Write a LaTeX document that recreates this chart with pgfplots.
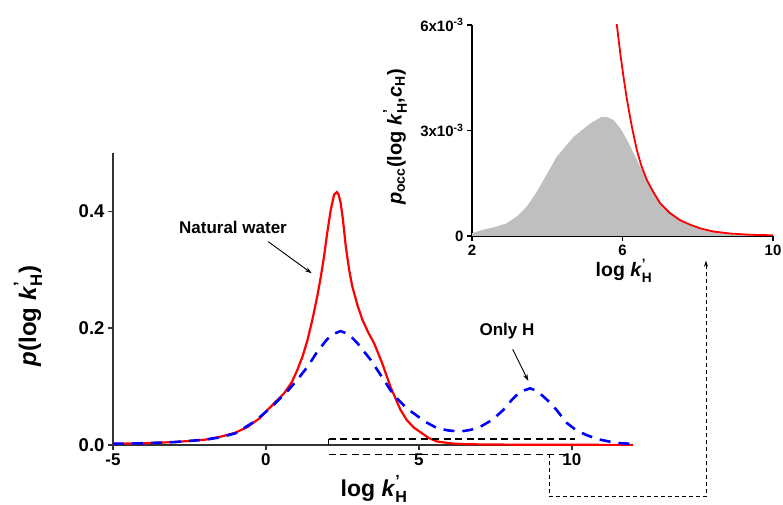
\documentclass[border=0pt]{standalone}
\usepackage{fontspec}
\setmainfont{Liberation Sans}
\usepackage{amsmath}
\usepackage{pgfplots}
\pgfplotsset{compat=1.18}
\usetikzlibrary{arrows.meta}

% k'_H and c_H in the current (bold) text font
\newcommand{\kH}{$\text{\textit{k}}^{\text{'}}_{\text{H}}$}
\newcommand{\cH}{$\text{\textit{c}}_{\text{H}}$}

\begin{document}
\begin{tikzpicture}[x=1pt,y=1pt]

% ---------------- main panel ----------------
\begin{axis}[
  at={(113pt,60pt)}, anchor=south west,
  scale only axis, width=520pt, height=292pt,
  xmin=-5, xmax=12, ymin=0, ymax=0.5,
  axis x line*=bottom, axis y line*=left,
  axis line style={line width=1.6pt, black!80},
  xtick={-5,0,5,10}, xticklabels={-5,0,5,10},
  ytick={0,0.2,0.4}, yticklabels={0.0,0.2,0.4},
  tick align=outside, major tick length=5pt,
  tick style={line width=1.4pt, black!80},
  x tick label style={font=\fontsize{17}{20}\selectfont\bfseries},
  y tick label style={font=\fontsize{18.5}{22}\selectfont\bfseries},
  clip=false,
]
% natural water
\addplot[red, line width=2.2pt] coordinates {
(-5,0.002) (-4,0.003) (-3,0.005) (-2,0.009) (-1.5,0.014) (-1,0.021)
(-0.6,0.031) (-0.2,0.046) (0.05,0.060) (0.3,0.073) (0.6,0.089) (0.85,0.108)
(1.03,0.129) (1.2,0.152) (1.36,0.180) (1.52,0.215) (1.68,0.255) (1.8,0.290)
(1.90,0.323) (2.0,0.362) (2.12,0.403) (2.23,0.429) (2.32,0.433) (2.38,0.428)
(2.44,0.415) (2.52,0.385) (2.61,0.340) (2.72,0.300) (2.82,0.272) (3.0,0.238)
(3.15,0.215) (3.35,0.192) (3.53,0.175) (3.80,0.140) (4.07,0.100) (4.25,0.078)
(4.40,0.060) (4.6,0.043) (4.83,0.030) (5.05,0.022) (5.32,0.012) (5.59,0.006)
(6.1,0.0025) (6.5,0.0015) (7,0.001) (8,0.0006) (10,0.0003) (12,0.0002)
};
% only H
\addplot[blue, line width=2.6pt, dash pattern=on 11pt off 8pt] coordinates {
(-5,0.002) (-4,0.003) (-3,0.005) (-2,0.009) (-1.5,0.013) (-1,0.020)
(-0.38,0.040) (0.16,0.064) (0.7,0.092) (1.0,0.110) (1.36,0.134) (1.68,0.160)
(2.0,0.181) (2.2,0.190) (2.44,0.195) (2.7,0.190) (2.98,0.175) (3.42,0.146)
(3.85,0.112) (4.18,0.085) (4.6,0.063) (4.94,0.050) (5.2,0.040) (5.59,0.029)
(5.95,0.025) (6.35,0.023) (6.7,0.026) (7.0,0.031) (7.4,0.043) (7.76,0.060)
(8.05,0.078) (8.31,0.091) (8.63,0.097) (8.85,0.093) (9.07,0.083) (9.30,0.072)
(9.50,0.060) (9.83,0.038) (10.15,0.025) (10.48,0.017) (10.85,0.010)
(11.24,0.0057) (11.6,0.003) (12,0.002)
};
\end{axis}

% ---------------- inset ----------------
\begin{axis}[
  at={(472pt,269pt)}, anchor=south west,
  scale only axis, width=301pt, height=211pt,
  xmin=2, xmax=10, ymin=0, ymax=6e-3,
  axis x line*=bottom, axis y line*=left,
  axis line style={line width=1.3pt, black},
  xtick={2,6,10}, xticklabels={2,6,10},
  ytick={0,3e-3,6e-3},
  yticklabels={0,3x10\textsuperscript{-3},6x10\textsuperscript{-3}},
  scaled y ticks=false,
  tick align=outside, major tick length=5pt,
  tick style={line width=1.2pt, black},
  x tick label style={font=\fontsize{15}{18}\selectfont\bfseries},
  y tick label style={font=\fontsize{15}{18}\selectfont\bfseries},
  clip=true,
]
\addplot[fill=gray!50, draw=none] coordinates {
(2.0,0.08e-3) (2.3,0.18e-3) (2.6,0.25e-3) (2.92,0.36e-3) (3.2,0.56e-3)
(3.45,0.83e-3) (3.7,1.22e-3) (3.90,1.59e-3) (4.25,2.25e-3) (4.70,2.82e-3)
(5.14,3.20e-3) (5.45,3.39e-3) (5.6,3.38e-3) (5.76,3.30e-3) (5.95,3.05e-3)
(6.12,2.73e-3) (6.30,2.35e-3) (6.47,1.97e-3) (6.65,1.60e-3) (6.82,1.28e-3)
(7.0,0.95e-3) (7.27,0.68e-3) (7.53,0.46e-3) (7.80,0.33e-3) (8.1,0.21e-3)
(8.42,0.12e-3) (8.8,0.06e-3) (9.3,0.03e-3) (10,0.01e-3)
} \closedcycle;
\addplot[red, line width=1.8pt] coordinates {
(5.75,7.2e-3) (5.85,6.0e-3) (5.94,5.2e-3) (6.03,4.5e-3) (6.12,3.87e-3)
(6.25,3.1e-3) (6.38,2.45e-3) (6.5,2.0e-3) (6.65,1.59e-3) (6.82,1.25e-3)
(7.0,0.93e-3) (7.25,0.66e-3) (7.53,0.45e-3) (7.8,0.32e-3) (8.06,0.22e-3)
(8.4,0.13e-3) (8.86,0.07e-3) (9.4,0.035e-3) (10,0.02e-3)
};
\end{axis}

% ---------------- axis titles ----------------
\node[font=\fontsize{23}{26}\selectfont\bfseries, anchor=base] at (374,9) {log \kH};
\node[font=\fontsize{24}{28}\selectfont\bfseries, rotate=90] at (28,189) {\textit{p}(log \kH)};
\node[font=\fontsize{19.5}{22}\selectfont\bfseries, anchor=base] at (624,228) {log \kH};
\node[font=\fontsize{20}{24}\selectfont\bfseries, rotate=90] at (395,368)
  {\textit{p}\textsubscript{occ}(log \kH,\cH)};

% ---------------- annotations ----------------
\node[font=\fontsize{17}{20}\selectfont\bfseries, anchor=base] at (233,271) {Natural water};
\draw[line width=0.9pt, -{Stealth[length=7pt,width=4.5pt]}] (268.3,263.3) -- (311.7,231.7);
\node[font=\fontsize{17}{20}\selectfont\bfseries, anchor=base] at (507,169) {Only H};
\draw[line width=0.9pt, -{Stealth[length=7pt,width=4.5pt]}] (512.7,155.7) -- (528.3,124);

% zoomed window and its connector to the inset
\draw[line width=1.1pt] (328.5,60) -- (328.5,66);
\draw[line width=1.1pt, dash pattern=on 7pt off 4.5pt] (328.5,66) -- (575,66);
\draw[line width=1.1pt, dash pattern=on 7pt off 4.5pt] (328.5,50.7) -- (567,50.7);
\draw[line width=1pt, dash pattern=on 4pt off 3pt, -{Stealth[length=6pt,width=4pt]}]
  (549,50.7) -- (549,8.3) -- (706,8.3) -- (706,244.3);

\pgfresetboundingbox
\path[use as bounding box] (0,0) rectangle (783,505);
\end{tikzpicture}
\end{document}
